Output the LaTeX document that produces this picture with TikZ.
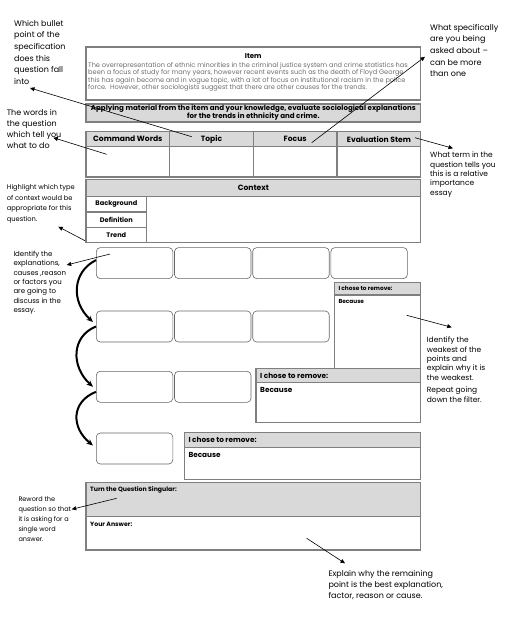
\documentclass[tikz,border=0pt]{standalone}
\usepackage{fontspec}
\setmainfont{Poppins}
\usetikzlibrary{arrows.meta, positioning, calc}
\definecolor{rulegray}{HTML}{7F7F7F}
\definecolor{headgray}{HTML}{D9D9D9}
\definecolor{itemgray}{HTML}{6E6E6E}

\begin{document}
\begin{tikzpicture}[
    x=1pt, y=-1pt,
    box/.style={rectangle, draw=rulegray, line width=1.1pt, inner sep=0pt, outer sep=0pt, anchor=north west},
    headbox/.style={box, fill=headgray, font=\bfseries\fontsize{7.6}{8}\selectfont},
    pick/.style={rectangle, draw=black!60, rounded corners=4pt, line width=0.6pt, minimum width=76.5pt, minimum height=31pt, inner sep=0pt, anchor=north west},
    hdtext/.style={font=\bfseries\fontsize{6.2}{7}\selectfont, inner sep=0pt},
    note/.style={anchor=north west, align=left, inner sep=0pt, font=\fontsize{7.5}{9.3}\selectfont},
    bignote/.style={note, font=\fontsize{8}{11.6}\selectfont},
    pointer/.style={-{Triangle[length=4.5pt, width=4pt]}, line width=0.6pt},
    swoop/.style={-{Stealth[length=6.5pt, width=5.5pt]}, line width=2pt}
]
\useasboundingbox (0,0) rectangle (504,619);

% The item
\node[box, minimum width=334.7pt, minimum height=53pt] (item) at (86,47) {};
\node[font=\bfseries\fontsize{7}{8}\selectfont, inner sep=0pt] (itemtitle) at (253.3,56.3) {Item};
\node[anchor=north west, align=left, inner sep=0pt, text=itemgray, font=\fontsize{6.6}{7.6}\selectfont] (itemtext) at (88,61.8)
    {The overrepresentation of ethnic minorities in the criminal justice system and crime statistics has\\
     been a focus of study for many years, however recent events such as the death of Floyd George\\
     this has again become and in vogue topic, with a lot of focus on institutional racism in the police\\
     force.\ \ However, other sociologists suggest that there are other causes for the trends.};

% The question
\node[headbox, minimum width=334.7pt, minimum height=18pt] (task) at (86,104) {};
\node[align=center, inner sep=0pt, font=\bfseries\fontsize{7.1}{8}\selectfont] (tasktext) at (task.center)
    {Applying material from the item and your knowledge, evaluate sociological explanations\\
     for the trends in ethnicity and crime.};

% Breakdown table
\foreach \lab [count=\i] in {Command Words, Topic, Focus, Evaluation Stem} {
    \node[headbox, minimum width=83.675pt, minimum height=15pt] (col\i) at ({86+(\i-1)*83.675},131.7) {\lab};
    \node[box, minimum width=83.675pt, minimum height=30.3pt] (cell\i) at ({86+(\i-1)*83.675},146.7) {};
}

% Context
\node[headbox, minimum width=334.7pt, minimum height=17.4pt] (context) at (86,179.3) {Context};
\node[box, minimum width=334.7pt, minimum height=46pt] (contextbody) at (86,196.7) {};
\foreach \kind [count=\i] in {Background, Definition, Trend}
    \node[box, minimum width=60.7pt, minimum height=15.33pt, font=\bfseries\fontsize{6.6}{7}\selectfont] (kind\i) at (86,{196.7+(\i-1)*15.33}) {\kind};

% Filter boxes
\foreach \row/\n/\top in {1/4/247.3, 2/3/310.7, 3/2/371, 4/1/432.7}
    \foreach \c in {1,...,\n}
        \node[pick] (pick\row\c) at ({96+(\c-1)*78.2},\top) {};

\draw[swoop] ([yshift=3pt]pick11.west) .. controls +(-24,12) and +(-22,-20) .. ([xshift=-3pt, yshift=4.5pt]pick21.west);
\draw[swoop] (pick21.west) .. controls +(-25,10) and +(-22,-20) .. ([xshift=-3pt]pick31.west);
\draw[swoop] ([yshift=-5pt]pick31.west) .. controls +(-25,10) and +(-22,-18) .. ([xshift=-3pt, yshift=3pt]pick41.west);

% Removal boxes
\foreach \k/\xl/\top/\hh/\bh/\fs in {1/334.3/282.3/12.7/74.3/5.8, 2/256/368.3/14.4/40/7.3, 3/184.3/432.7/14.6/32/7.3} {
    \node[headbox, minimum width={(420.7-\xl)*1pt}, minimum height=\hh pt] (remove\k) at (\xl,\top) {};
    \node[box, minimum width={(420.7-\xl)*1pt}, minimum height=\bh pt] (because\k) at (remove\k.south west) {};
    \node[hdtext, anchor=west, font=\bfseries\fontsize{\fs}{8}\selectfont] (removetext\k) at ([xshift=4pt]remove\k.west) {I chose to remove:};
    \node[hdtext, anchor=north west, font=\bfseries\fontsize{\fs}{8}\selectfont] (becausetext\k) at ([xshift=4pt, yshift=-4.5pt]because\k.north west) {Because};
}

% Singular question and answer
\node[headbox, minimum width=334.7pt, minimum height=34.4pt] (singular) at (86,482.3) {};
\node[box, minimum width=334.7pt, minimum height=33.3pt] (answer) at (singular.south west) {};
\node[hdtext, anchor=north west, font=\bfseries\fontsize{6.2}{7}\selectfont] (singulartext) at ([xshift=4pt, yshift=-4.5pt]singular.north west) {Turn the Question Singular:};
\node[hdtext, anchor=north west, font=\bfseries\fontsize{6.2}{7}\selectfont] (answertext) at ([xshift=4pt, yshift=-5pt]answer.north west) {Your Answer:};

% Notes
\node[bignote] (bulletnote) at (14,20) {Which bullet\\point of the\\specification\\does this\\question fall\\into};
\node[bignote] (askednote) at (430,24) {What specifically\\are you being\\asked about –\\can be more\\than one};
\node[bignote, font=\fontsize{8}{11}\selectfont] (wordsnote) at (6.7,109) {The words in\\the question\\which tell you\\what to do};
\node[note] (termnote) at (430,152) {What term in the\\question tells you\\this is a relative\\importance\\essay};
\node[note, font=\fontsize{6.7}{10.8}\selectfont] (contextnote) at (6.7,184) {Highlight which type\\of context would be\\appropriate for this\\question.};
\node[note, font=\fontsize{7}{9.3}\selectfont] (explnote) at (13.3,251) {Identify the\\explanations,\\causes ,reason\\or factors you\\are going to\\discuss in the\\essay.};
\node[note] (weaknote) at (426.7,337) {Identify the\\weakest of the\\points and\\explain why it is\\the weakest.\\[3.4pt]Repeat going\\down the filter.};
\node[note, font=\fontsize{6.5}{10}\selectfont] (rewordnote) at (18.3,496) {Reword the\\question so that\\it is asking for a\\single word\\answer.};
\node[bignote, font=\fontsize{8}{11}\selectfont] (remainnote) at (328.3,570) {Explain why the remaining\\point is the best explanation,\\factor, reason or cause.};

% Pointers
\coordinate (topicpt) at (191.7,136.7);   \coordinate (bulletpt) at (30,88);
\coordinate (focuspt) at (311.7,142.7);   \coordinate (askedpt) at (425,56.7);
\coordinate (cmdpt) at (106.7,154.3);     \coordinate (wordspt) at (53.3,137.7);
\coordinate (stempt) at (415,137.7);      \coordinate (termpt) at (453,148.3);
\coordinate (trendpt) at (85,240.7);      \coordinate (contextpt) at (58.3,226.7);
\coordinate (firstpt) at (110,254);       \coordinate (explpt) at (66.7,265);
\coordinate (removept) at (406.7,315.3);  \coordinate (weakpt) at (451.7,327.3);
\coordinate (singpt) at (116.7,498.3);    \coordinate (rewordpt) at (71.7,509.3);
\coordinate (answerpt) at (306.7,538.3);  \coordinate (remainpt) at (345,563.3);

\draw[pointer] (topicpt) -- (bulletpt);
\draw[pointer] (focuspt) -- (askedpt);
\draw[pointer] (cmdpt) -- (wordspt);
\draw[pointer] (stempt) -- (termpt);
\draw[pointer] (trendpt) -- (contextpt);
\draw[pointer] (firstpt) -- (explpt);
\draw[pointer] (removept) -- (weakpt);
\draw[pointer] (singpt) -- (rewordpt);
\draw[pointer] (answerpt) -- (remainpt);

\end{tikzpicture}
\end{document}
